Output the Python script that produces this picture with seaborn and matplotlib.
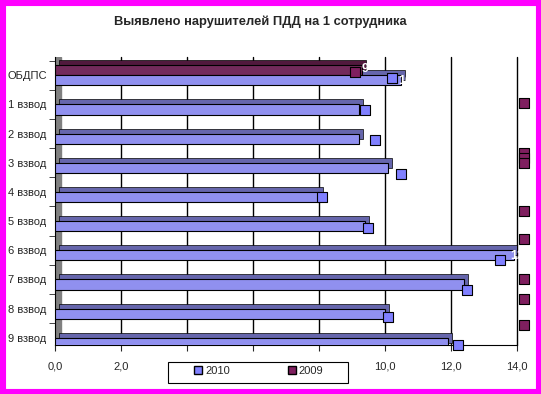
import numpy as np
import pandas as pd
import matplotlib
matplotlib.use("Agg")
import matplotlib.pyplot as plt
import matplotlib.transforms as mtransforms
from matplotlib.patches import Rectangle
from matplotlib.lines import Line2D
import seaborn as sns

sns.set_style("white")
plt.rcParams['font.family'] = ['Liberation Sans', 'DejaVu Sans']

categories = ['ОБДПС', '1 взвод', '2 взвод', '3 взвод', '4 взвод',
              '5 взвод', '6 взвод', '7 взвод', '8 взвод', '9 взвод']
bars_2010 = [10.5, 9.2, 9.2, 10.1, 8.0, 9.4, 13.9, 12.4, 10.0, 11.9]
bars_2009 = [9.3, np.nan, np.nan, np.nan, np.nan, np.nan, np.nan, np.nan, np.nan, np.nan]

# square markers (as scattered in the original chart)
mark_2010_x = [10.2, 9.4, 9.7, 10.5, 8.1, 9.5, 13.5, 12.5, 10.1, 12.2]
mark_2010_y = [0.1, 1.2, 2.23, 3.39, 4.18, 5.24, 6.34, 7.36, 8.29, 9.25]
mark_2009_x = [9.1, 14.2, 14.2, 14.2, 14.2, 14.2, 14.2, 14.2, 14.2, 14.2]
mark_2009_y = [-0.1, 0.96, 2.67, 2.84, 3.01, 4.66, 5.62, 6.99, 7.67, 8.56]

labels_2009 = {0: '9'}
labels_2010 = {0: '10', 6: '13'}

# x tick labels; 4,0 6,0 8,0 are hidden under the legend box in the original
xtick_vals = [0, 2, 4, 6, 8, 10, 12, 14]
xtick_labels = ['0,0', '2,0', '', '', '', '10,0', '12,0', '14,0']

c2010 = '#8080FF'
c2009 = '#7F1F5F'
c2010_dark = '#5A5AB8'
c2009_dark = '#5A1040'

df = pd.DataFrame({
    'cat': categories * 2,
    'val': bars_2009 + bars_2010,
    'year': ['2009'] * len(categories) + ['2010'] * len(categories),
})

fig = plt.figure(figsize=(5.41, 3.94), dpi=100)
ax = fig.add_axes([0.1017, 0.1244, 0.8539, 0.7306])

# darker shifted copy for the 3D look
shift = mtransforms.offset_copy(ax.transData, fig=fig, x=4, y=5, units='dots')
sns.barplot(data=df, y='cat', x='val', hue='year', hue_order=['2009', '2010'],
            palette=[c2009_dark, c2010_dark], orient='h', width=0.7,
            edgecolor='black', linewidth=0.5, legend=False, ax=ax, errorbar=None)
for p in ax.patches:
    p.set_transform(shift)
    p.set_zorder(2)
n_back = len(ax.patches)

sns.barplot(data=df, y='cat', x='val', hue='year', hue_order=['2009', '2010'],
            palette=[c2009, c2010], orient='h', width=0.7,
            edgecolor='black', linewidth=0.8, legend=False, ax=ax, errorbar=None)
for p in ax.patches[n_back:]:
    p.set_zorder(3)

ax.scatter(mark_2010_x, mark_2010_y, marker='s', s=45, color=c2010,
           edgecolor='black', linewidth=0.8, zorder=5, clip_on=False)
ax.scatter(mark_2009_x, mark_2009_y, marker='s', s=45, color=c2009,
           edgecolor='black', linewidth=0.8, zorder=5, clip_on=False)

for i, t in labels_2009.items():
    ax.text(bars_2009[i], i - 0.2, t, color='white', fontsize=9,
            fontweight='bold', va='center', ha='left', zorder=6)
for i, t in labels_2010.items():
    ax.text(bars_2010[i] - 0.1, i + 0.2, t, color='white', fontsize=9,
            fontweight='bold', va='center', ha='left', zorder=6)

# left wall
ax.axvspan(0, 0.18, color='#808080', zorder=1)

ax.set_xlim(0, 14)
ax.set_ylim(9.25, -0.62)
ax.set_xticks(xtick_vals)
ax.set_xticklabels(xtick_labels, fontsize=8)
for v in xtick_vals[1:]:
    ax.axvline(v, color='black', linewidth=1, zorder=0, clip_on=False)
ax.tick_params(axis='y', length=0, labelsize=8, pad=6)
ax.tick_params(axis='x', length=4, direction='out', pad=8, bottom=True)
ax.set_yticks(np.arange(-0.5, 9.5, 1), minor=True)
ax.tick_params(axis='y', which='minor', length=4, direction='out', left=True)
ax.set_xlabel('')
ax.set_ylabel('')
for s in ['top', 'right']:
    ax.spines[s].set_visible(False)
ax.spines['left'].set_color('black')
ax.spines['bottom'].set_color('black')

fig.text(0.481, 0.944, 'Выявлено нарушителей ПДД на 1 сотрудника',
         ha='center', va='center', fontsize=9.3, fontweight='bold')

# legend box
fig.patches.append(Rectangle((168 / 541, 1 - 383 / 394), 180 / 541, 21 / 394,
                             transform=fig.transFigure, facecolor='white',
                             edgecolor='black', linewidth=0.8, zorder=8))
handles = [Line2D([], [], marker='s', linestyle='none', markersize=6,
                  markerfacecolor=c2010, markeredgecolor='black', label='2010'),
           Line2D([], [], marker='s', linestyle='none', markersize=6,
                  markerfacecolor=c2009, markeredgecolor='black', label='2009')]
leg = fig.legend(handles=handles, ncol=2, loc='center',
                 bbox_to_anchor=(0.477, 0.0584), fontsize=8, frameon=False,
                 handletextpad=0.1, columnspacing=5.1, borderpad=0.3,
                 handlelength=1, borderaxespad=0)
leg.set_zorder(10)

fig.patches.append(Rectangle((0, 0), 1, 1, transform=fig.transFigure,
                             fill=False, edgecolor='#FF00FF', linewidth=8))

fig.savefig('out.png', dpi=100)
